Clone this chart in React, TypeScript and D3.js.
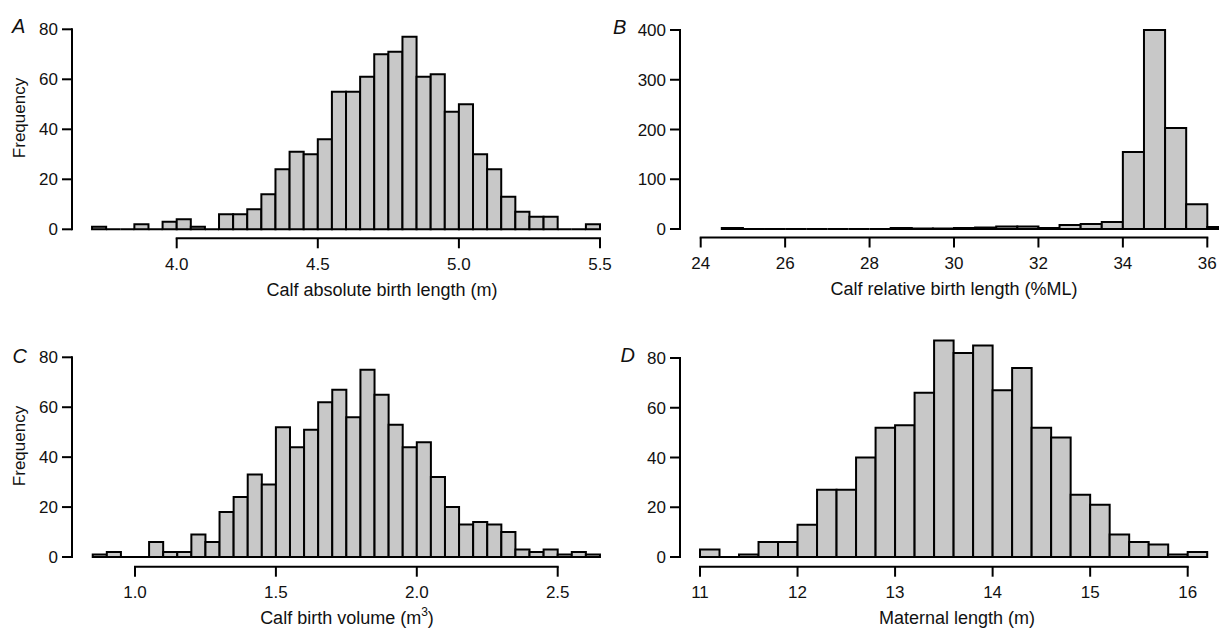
import React from "react";
import * as d3 from "d3";

// ---------- DATA ----------
// Panel A: calf absolute birth length (m), bins of 0.05 starting 3.70
const aBinStart = 3.7;
const aBinWidth = 0.05;
const aCounts = [1, 0, 0, 2, 0, 3, 4, 1, 0, 6, 6, 8, 14, 24, 31, 30, 36, 55, 55, 61, 70, 71, 77, 61, 62, 47, 50, 30, 24, 13, 7, 5, 5, 0, 0, 2];
const aXTicks = [4.0, 4.5, 5.0, 5.5];
const aYTicks = [0, 20, 40, 60, 80];

// Panel B: calf relative birth length (%ML), bins of 0.5 starting 24.5
const bBinStart = 24.5;
const bBinWidth = 0.5;
const bCounts = [2, 0, 0, 0, 0, 0, 0, 0, 2, 1, 1, 2, 3, 5, 5, 2, 8, 10, 14, 155, 400, 203, 50, 4];
const bXTicks = [24, 26, 28, 30, 32, 34, 36];
const bYTicks = [0, 100, 200, 300, 400];

// Panel C: calf birth volume (m3), bins of 0.05 starting 0.85
const cBinStart = 0.85;
const cBinWidth = 0.05;
const cCounts = [1, 2, 0, 0, 6, 2, 2, 9, 6, 18, 24, 33, 29, 52, 44, 51, 62, 67, 56, 75, 65, 53, 44, 46, 32, 20, 13, 14, 13, 10, 3, 2, 3, 1, 2, 1];
const cXTicks = [1.0, 1.5, 2.0, 2.5];
const cYTicks = [0, 20, 40, 60, 80];

// Panel D: maternal length (m), bins of 0.2 starting 11.0
const dBinStart = 11.0;
const dBinWidth = 0.2;
const dCounts = [3, 0, 1, 6, 6, 13, 27, 27, 40, 52, 53, 66, 87, 82, 85, 67, 76, 52, 48, 25, 21, 9, 6, 5, 1, 2];
const dXTicks = [11, 12, 13, 14, 15, 16];
const dYTicks = [0, 20, 40, 60, 80];

// ---------- LAYOUT ----------
const FONT = "'Liberation Sans', Arial, Helvetica, sans-serif";
const FILL = "#c8c8c8";
const TICK_FS = 17;
const TITLE_FS = 18;

type PanelProps = {
  letter: string;
  counts: number[];
  binStart: number;
  binWidth: number;
  xTicks: number[];
  yTicks: number[];
  xFmt: (v: number) => string;
  xDomain: [number, number];
  xRange: [number, number];
  yDomain: [number, number];
  yRange: [number, number];
  yAxisX: number;
  xAxisY: number;
  title: React.ReactNode;
  titleX: number;
  letterPos: [number, number];
  yLabel?: [number, number];
};

function Panel(p: PanelProps) {
  const x = d3.scaleLinear().domain(p.xDomain).range(p.xRange);
  const y = d3.scaleLinear().domain(p.yDomain).range(p.yRange);
  const y0 = y(0);
  return (
    <g>
      {p.counts.map((c, i) => {
        const x0 = x(p.binStart + i * p.binWidth);
        const x1 = x(p.binStart + (i + 1) * p.binWidth);
        const yt = y(c);
        const d = `M${x0},${y0}V${yt}H${x1}V${y0}Z`;
        return <path key={i} d={d} fill={FILL} stroke="#000" strokeWidth={2} strokeLinejoin="miter" />;
      })}
      {/* y axis */}
      <line x1={p.yAxisX} x2={p.yAxisX} y1={y(p.yTicks[0])} y2={y(p.yTicks[p.yTicks.length - 1])} stroke="#000" strokeWidth={2} strokeLinecap="square" />
      {p.yTicks.map((t) => (
        <g key={t}>
          <line x1={p.yAxisX - 10} x2={p.yAxisX} y1={y(t)} y2={y(t)} stroke="#000" strokeWidth={2} />
          <text x={p.yAxisX - 14} y={y(t)} dy="0.36em" textAnchor="end" fontSize={TICK_FS} fontFamily={FONT} fill="#111">
            {t}
          </text>
        </g>
      ))}
      {/* x axis */}
      <line x1={x(p.xTicks[0])} x2={x(p.xTicks[p.xTicks.length - 1])} y1={p.xAxisY} y2={p.xAxisY} stroke="#000" strokeWidth={2} strokeLinecap="square" />
      {p.xTicks.map((t) => (
        <g key={t}>
          <line x1={x(t)} x2={x(t)} y1={p.xAxisY} y2={p.xAxisY + 10} stroke="#000" strokeWidth={2} />
          <text x={x(t)} y={p.xAxisY + 31.5} textAnchor="middle" fontSize={TICK_FS} fontFamily={FONT} fill="#111">
            {p.xFmt(t)}
          </text>
        </g>
      ))}
      <text x={p.titleX} y={p.xAxisY + 57.5} textAnchor="middle" fontSize={TITLE_FS} fontFamily={FONT} fill="#111">
        {p.title}
      </text>
      <text x={p.letterPos[0]} y={p.letterPos[1]} fontSize={20} fontStyle="italic" fontFamily={FONT} fill="#111">
        {p.letter}
      </text>
      {p.yLabel && (
        <text
          transform={`translate(${p.yLabel[0]},${p.yLabel[1]}) rotate(-90)`}
          textAnchor="middle"
          fontSize={17}
          fontFamily={FONT}
          fill="#111"
        >
          Frequency
        </text>
      )}
    </g>
  );
}

export default function App() {
  const f1 = d3.format(".1f");
  const f0 = d3.format("d");
  return (
    <svg width={1219} height={629} style={{ position: "absolute", left: 0, top: 0, background: "#fff" }}>
      <rect x={0} y={0} width={1219} height={629} fill="#fff" />
      <Panel
        letter="A"
        counts={aCounts}
        binStart={aBinStart}
        binWidth={aBinWidth}
        xTicks={aXTicks}
        yTicks={aYTicks}
        xFmt={f1}
        xDomain={[4.0, 5.5]}
        xRange={[176.7, 600]}
        yDomain={[0, 80]}
        yRange={[229.3, 29.3]}
        yAxisX={72}
        xAxisY={238.3}
        title="Calf absolute birth length (m)"
        titleX={382}
        letterPos={[12, 33.3]}
        yLabel={[24.5, 118]}
      />
      <Panel
        letter="B"
        counts={bCounts}
        binStart={bBinStart}
        binWidth={bBinWidth}
        xTicks={bXTicks}
        yTicks={bYTicks}
        xFmt={f0}
        xDomain={[24, 36]}
        xRange={[700.7, 1207.3]}
        yDomain={[0, 400]}
        yRange={[229, 30]}
        yAxisX={680}
        xAxisY={237.5}
        title="Calf relative birth length (%ML)"
        titleX={954}
        letterPos={[613, 34]}
      />
      <Panel
        letter="C"
        counts={cCounts}
        binStart={cBinStart}
        binWidth={cBinWidth}
        xTicks={cXTicks}
        yTicks={cYTicks}
        xFmt={f1}
        xDomain={[1.0, 2.5]}
        xRange={[135, 557.7]}
        yDomain={[0, 80]}
        yRange={[557, 357.3]}
        yAxisX={72}
        xAxisY={566.7}
        title={
          <>
            Calf birth volume (m
            <tspan fontSize={12} dy={-8}>3</tspan>
            <tspan dy={8}>)</tspan>
          </>
        }
        titleX={347}
        letterPos={[12.5, 363.3]}
        yLabel={[24.5, 446]}
      />
      <Panel
        letter="D"
        counts={dCounts}
        binStart={dBinStart}
        binWidth={dBinWidth}
        xTicks={dXTicks}
        yTicks={dYTicks}
        xFmt={f0}
        xDomain={[11, 16]}
        xRange={[700, 1187.7]}
        yDomain={[0, 80]}
        yRange={[557, 358]}
        yAxisX={680}
        xAxisY={566.7}
        title="Maternal length (m)"
        titleX={957}
        letterPos={[620.5, 362]}
      />
    </svg>
  );
}
